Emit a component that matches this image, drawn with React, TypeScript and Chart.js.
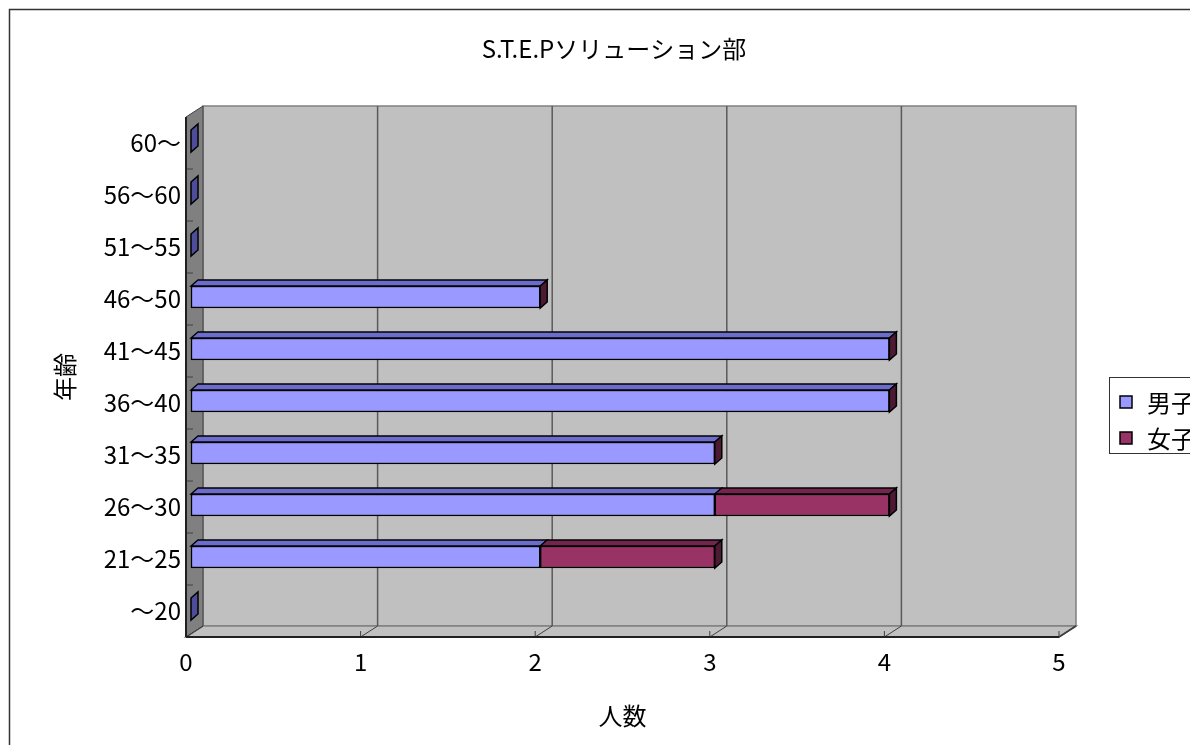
import React, { useEffect, useRef } from "react";
import { Chart, registerables } from "chart.js";

Chart.register(...registerables);

const TITLE = "S.T.E.Pソリューション部";
const X_TITLE = "人数";
const Y_TITLE = "年齢";
const AGE_GROUPS = ["60〜", "56〜60", "51〜55", "46〜50", "41〜45", "36〜40", "31〜35", "26〜30", "21〜25", "〜20"];
const SERIES_NAMES = ["男子", "女子"];
const MALE = [0, 0, 0, 2, 4, 4, 3, 3, 2, 0];
const FEMALE = [0, 0, 0, 0, 0, 0, 0, 1, 1, 0];
const X_MIN = 0;
const X_MAX = 5;
const X_STEP = 1;

const FONT = '"Noto Sans CJK JP", "Noto Sans", sans-serif';
const CW = 1240;
const CH = 760;
const DEPTH = { x: 17, y: -11 };
const BAR_SHIFT = { x: 5, y: -2 };
const BAR_DEPTH = { x: 7, y: -6 };

const MALE_COL = { front: "#9999FF", top: "#6C6CCC", side: "#4D4D99" };
const FEMALE_COL = { front: "#993366", top: "#73264D", side: "#4D1A33" };

function poly(ctx: CanvasRenderingContext2D, pts: number[][], fill: string, stroke: string, lw: number) {
  ctx.beginPath();
  ctx.moveTo(pts[0][0], pts[0][1]);
  for (let i = 1; i < pts.length; i++) ctx.lineTo(pts[i][0], pts[i][1]);
  ctx.closePath();
  ctx.fillStyle = fill;
  ctx.fill();
  if (lw > 0) {
    ctx.strokeStyle = stroke;
    ctx.lineWidth = lw;
    ctx.stroke();
  }
}

function line(ctx: CanvasRenderingContext2D, x1: number, y1: number, x2: number, y2: number, color: string, lw: number) {
  ctx.beginPath();
  ctx.moveTo(x1, y1);
  ctx.lineTo(x2, y2);
  ctx.strokeStyle = color;
  ctx.lineWidth = lw;
  ctx.stroke();
}

const threeD = {
  id: "threeD",
  beforeDraw(chart: any) {
    const ctx = chart.ctx as CanvasRenderingContext2D;
    const { left: L, right: R, top: T, bottom: B } = chart.chartArea;
    const dx = DEPTH.x, dy = DEPTH.y;
    ctx.save();
    ctx.fillStyle = "#FFFFFF";
    ctx.fillRect(0, 0, CW, CH);
    // outer frame
    ctx.strokeStyle = "#333333";
    ctx.lineWidth = 1.5;
    ctx.strokeRect(1.5, 1.5, CW - 10, CH - 10);
    // back wall
    poly(ctx, [[L + dx, T + dy], [R + dx, T + dy], [R + dx, B + dy], [L + dx, B + dy]], "#C0C0C0", "#808080", 1.5);
    // floor
    poly(ctx, [[L, B], [L + dx, B + dy], [R + dx, B + dy], [R, B]], "#C0C0C0", "#808080", 1.5);
    // side wall
    poly(ctx, [[L, T], [L + dx, T + dy], [L + dx, B + dy], [L, B]], "#808080", "#404040", 1);
    const xs = chart.scales.x;
    const ys = chart.scales.y;
    // gridlines on back wall
    for (let v = X_MIN + X_STEP; v < X_MAX; v += X_STEP) {
      const px = xs.getPixelForValue(v) + dx;
      line(ctx, px, T + dy, px, B + dy, "#5A5A5A", 1.5);
    }
    // floor lines and ticks
    for (let v = X_MIN; v <= X_MAX; v += X_STEP) {
      const px = xs.getPixelForValue(v);
      line(ctx, px, B, px + dx, B + dy, "#404040", 1);
      line(ctx, px, B - 6, px, B, "#404040", 1);
    }
    // category ticks on side wall
    for (let i = 0; i < AGE_GROUPS.length - 1; i++) {
      const py = (ys.getPixelForValue(i) + ys.getPixelForValue(i + 1)) / 2;
      line(ctx, L, py, L + 7, py, "#404040", 1);
    }
    // front edges
    line(ctx, L, T, L, B, "#202020", 2);
    line(ctx, L, B, R, B, "#202020", 2);
    line(ctx, R, B, R + dx, B + dy, "#404040", 1.5);
    ctx.restore();
  },
  beforeDatasetsDraw(chart: any) {
    chart.ctx.save();
    chart.ctx.translate(BAR_SHIFT.x, BAR_SHIFT.y);
  },
  afterDatasetsDraw(chart: any) {
    const ctx = chart.ctx as CanvasRenderingContext2D;
    const mM = chart.getDatasetMeta(0);
    const mF = chart.getDatasetMeta(1);
    const bx = BAR_DEPTH.x, by = BAR_DEPTH.y;
    for (let i = 0; i < AGE_GROUPS.length; i++) {
      const em = mM.data[i].getProps(["x", "y", "base", "height"], true);
      const ef = mF.data[i].getProps(["x", "y", "base", "height"], true);
      const top = em.y - em.height / 2;
      const bot = em.y + em.height / 2;
      if (Math.abs(em.x - em.base) > 0.5) {
        poly(ctx, [[em.base, top], [em.base + bx, top + by], [em.x + bx, top + by], [em.x, top]], MALE_COL.top, "#000", 1.3);
      }
      if (Math.abs(ef.x - ef.base) > 0.5) {
        poly(ctx, [[ef.base, top], [ef.base + bx, top + by], [ef.x + bx, top + by], [ef.x, top]], FEMALE_COL.top, "#000", 1.3);
      }
      const end = ef.x;
      const col = MALE[i] > 0 ? FEMALE_COL.side : MALE_COL.side;
      poly(ctx, [[end, top], [end + bx, top + by], [end + bx, bot + by], [end, bot]], col, "#000", 1.5);
    }
    ctx.restore();
  },
  afterDraw(chart: any) {
    const ctx = chart.ctx as CanvasRenderingContext2D;
    ctx.save();
    const bxL = 1101, bxT = 369, bxW = 140, bxH = 76;
    ctx.fillStyle = "#FFFFFF";
    ctx.fillRect(bxL, bxT, bxW, bxH);
    ctx.strokeStyle = "#333333";
    ctx.lineWidth = 1;
    ctx.strokeRect(bxL + 0.5, bxT + 0.5, bxW, bxH);
    const rows = [394, 430];
    chart.data.datasets.forEach((ds: any, i: number) => {
      const cy = rows[i];
      ctx.fillStyle = ds.backgroundColor;
      ctx.fillRect(1112, cy - 6, 12, 12);
      ctx.strokeStyle = "#000";
      ctx.lineWidth = 1.5;
      ctx.strokeRect(1112, cy - 6, 12, 12);
      ctx.fillStyle = "#000";
      ctx.font = `24px ${FONT}`;
      ctx.textAlign = "left";
      ctx.textBaseline = "middle";
      ctx.fillText(ds.label, 1139, cy + 1);
    });
    ctx.restore();
  },
};

export default function App() {
  const ref = useRef<HTMLCanvasElement | null>(null);
  useEffect(() => {
    if (!ref.current) return;
    const chart = new Chart(ref.current, {
      type: "bar",
      data: {
        labels: AGE_GROUPS,
        datasets: [
          {
            label: SERIES_NAMES[0],
            data: MALE,
            backgroundColor: MALE_COL.front,
            borderColor: "#000000",
            borderWidth: 1.5,
            borderSkipped: false,
            barThickness: 22,
            clip: false as any,
          },
          {
            label: SERIES_NAMES[1],
            data: FEMALE,
            backgroundColor: FEMALE_COL.front,
            borderColor: "#000000",
            borderWidth: 1.5,
            borderSkipped: false,
            barThickness: 22,
            clip: false as any,
          },
        ],
      },
      options: {
        indexAxis: "y",
        responsive: false,
        animation: false,
        devicePixelRatio: 1,
        layout: { padding: { left: 0, top: 0, right: 28, bottom: 11 } },
        plugins: {
          legend: { display: false },
          tooltip: { enabled: false },
          title: {
            display: true,
            text: TITLE,
            color: "#000",
            font: { family: FONT, size: 24, weight: "normal", lineHeight: 1.2 },
            padding: { top: 26.6, bottom: 53.6 },
          },
        },
        scales: {
          x: {
            stacked: true,
            min: X_MIN,
            max: X_MAX,
            grid: { display: false, drawTicks: false },
            border: { display: false },
            ticks: { stepSize: X_STEP, color: "#000", padding: 10, font: { family: FONT, size: 24 } },
            title: {
              display: true,
              text: X_TITLE,
              color: "#000",
              font: { family: FONT, size: 24, lineHeight: 1.2 },
              padding: { top: 0, bottom: 26.6 },
            },
            afterFit(scale: any) {
              scale.height = 120;
            },
          },
          y: {
            stacked: true,
            grid: { display: false, drawTicks: false },
            border: { display: false },
            ticks: { color: "#000", padding: 5, font: { family: FONT, size: 24 } },
            title: {
              display: true,
              text: Y_TITLE,
              color: "#000",
              font: { family: FONT, size: 24, lineHeight: 1.2 },
              padding: { top: 42.6, bottom: 0 },
            },
            afterFit(scale: any) {
              scale.width = 178;
            },
          },
          yRight: {
            type: "linear",
            position: "right",
            display: true,
            grid: { display: false, drawTicks: false },
            border: { display: false },
            ticks: { display: false },
            afterFit(scale: any) {
              scale.width = 161;
            },
          },
        },
      } as any,
      plugins: [threeD],
    });
    return () => chart.destroy();
  }, []);
  return (
    <div style={{ width: 1190, height: 737, overflow: "hidden", position: "relative" }}>
      <canvas ref={ref} width={CW} height={CH} style={{ display: "block", width: CW, height: CH }} />
    </div>
  );
}
